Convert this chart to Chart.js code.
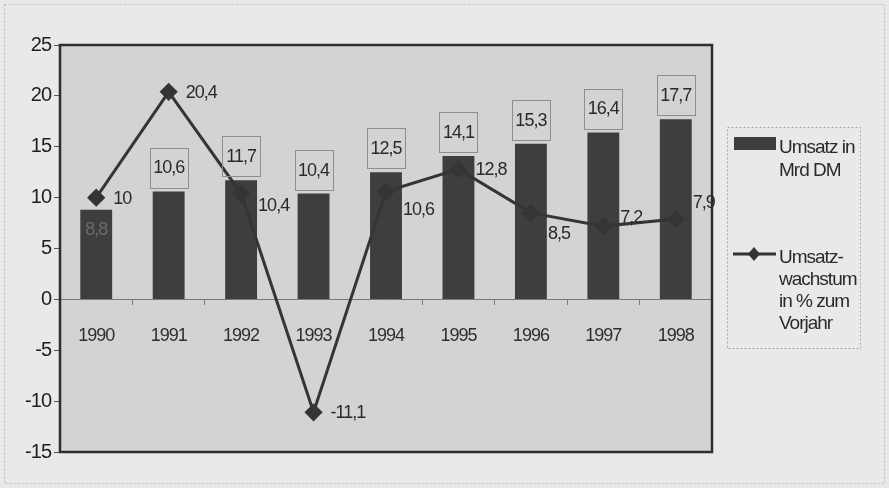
<!DOCTYPE html>
<html>
<head>
<meta charset="utf-8">
<script src="https://cdn.jsdelivr.net/npm/chart.js@4/dist/chart.umd.min.js"></script>
<style>
  html, body { margin: 0; padding: 0; background: #e8e8e6; }
  #wrap { width: 889px; height: 488px; position: relative; }
</style>
</head>
<body>
<div id="wrap"><canvas id="chartUmsatz"></canvas></div>
<script>
// Daten aus der Grafik
const jahre = ["1990", "1991", "1992", "1993", "1994", "1995", "1996", "1997", "1998"];
const umsatz = [8.8, 10.6, 11.7, 10.4, 12.5, 14.1, 15.3, 16.4, 17.7];      // Mrd DM
const wachstum = [10, 20.4, 10.4, -11.1, 10.6, 12.8, 8.5, 7.2, 7.9];      // % zum Vorjahr
const yMin = -15, yMax = 25, yStep = 5;

// Verschiebung der Linien-Beschriftung (px, nach unten)
const labelVersatz = [0, 0, 11, 0, 18, 0, 20, -9, -17];

const dunkel = "#3e3e3e";
const fmt = v => String(v).replace(".", ",");

const hintergrund = {
  id: "hintergrund",
  beforeUpdate(chart) { chart.ctx.letterSpacing = "-1px"; },
  beforeDraw(chart) {
    const { ctx, chartArea: a } = chart;
    ctx.save();
    ctx.fillStyle = "#e9e9e7";
    ctx.fillRect(0, 0, chart.width, chart.height);
    ctx.setLineDash([2, 2]);
    ctx.strokeStyle = "#bdbdbd";
    ctx.lineWidth = 1;
    ctx.strokeRect(4.5, 4.5, chart.width - 9, chart.height - 9);
    ctx.setLineDash([]);
    ctx.fillStyle = "#d3d3d1";
    ctx.fillRect(a.left, a.top, a.right - a.left, a.bottom - a.top);
    ctx.restore();
    ctx.letterSpacing = "-1px";
  },
  afterDraw(chart) {
    const { ctx, chartArea: a } = chart;
    ctx.save();
    ctx.letterSpacing = "-1px";
    // Rahmen der Zeichenfläche
    ctx.strokeStyle = "#2e2e2e";
    ctx.lineWidth = 2.5;
    ctx.strokeRect(a.left, a.top, a.right - a.left, a.bottom - a.top);

    // Säulen-Beschriftung
    ctx.font = "18px 'Liberation Sans', Arial, sans-serif";
    ctx.textAlign = "center";
    ctx.textBaseline = "middle";
    chart.getDatasetMeta(1).data.forEach((bar, i) => {
      if (i === 0) {
        ctx.fillStyle = "#6a6a6a";
        ctx.fillText(fmt(umsatz[i]), bar.x, bar.y + 20);
        return;
      }
      const w = 38, h = 40, bottom = bar.y - 4;
      ctx.strokeStyle = "#8e8e8e";
      ctx.lineWidth = 1;
      ctx.strokeRect(Math.round(bar.x - w / 2) + 0.5, Math.round(bottom - h) + 0.5, w, h);
      ctx.fillStyle = "#2a2a2a";
      ctx.fillText(fmt(umsatz[i]), bar.x, bottom - h / 2 + 1);
    });

    // Linien-Beschriftung
    ctx.textAlign = "left";
    chart.getDatasetMeta(0).data.forEach((pt, i) => {
      ctx.fillStyle = "#2a2a2a";
      ctx.fillText(fmt(wachstum[i]), pt.x + 17, pt.y + labelVersatz[i] + 1);
    });

    // Legende
    const lx = 727, ly = 127;
    ctx.setLineDash([2, 2]);
    ctx.strokeStyle = "#a8a8a8";
    ctx.strokeRect(lx + 0.5, ly + 0.5, 133, 221);
    ctx.setLineDash([]);
    ctx.fillStyle = dunkel;
    ctx.fillRect(lx + 7, ly + 10, 42, 13);
    ctx.font = "19px 'Liberation Sans', Arial, sans-serif";
    ctx.fillStyle = "#2a2a2a";
    ctx.textBaseline = "middle";
    ctx.fillText("Umsatz in", lx + 52, ly + 21);
    ctx.fillText("Mrd DM", lx + 52, ly + 44);
    ctx.strokeStyle = "#333";
    ctx.lineWidth = 3;
    ctx.beginPath();
    ctx.moveTo(lx + 6, ly + 127);
    ctx.lineTo(lx + 49, ly + 127);
    ctx.stroke();
    ctx.beginPath();
    ctx.moveTo(lx + 27, ly + 120);
    ctx.lineTo(lx + 33, ly + 127);
    ctx.lineTo(lx + 27, ly + 134);
    ctx.lineTo(lx + 21, ly + 127);
    ctx.closePath();
    ctx.fillStyle = "#333";
    ctx.fill();
    ctx.fillStyle = "#2a2a2a";
    ["Umsatz-", "wachstum", "in % zum", "Vorjahr"].forEach((t, k) => {
      ctx.fillText(t, lx + 52, ly + 131 + k * 22);
    });
    ctx.restore();
  }
};

document.addEventListener("DOMContentLoaded", function () {
  const ctx = document.getElementById("chartUmsatz");

  new Chart(ctx, {
    type: "bar",
    data: {
      labels: jahre,
      datasets: [
        {
          type: "line",
          label: "Umsatzwachstum in % zum Vorjahr",
          data: wachstum,
          borderColor: "#353535",
          borderWidth: 3,
          pointStyle: "rectRot",
          pointRadius: 7,
          pointBackgroundColor: "#353535",
          pointBorderColor: "#353535",
          tension: 0,
          clip: false
        },
        {
          type: "bar",
          label: "Umsatz in Mrd DM",
          data: umsatz,
          backgroundColor: dunkel,
          barPercentage: 0.44,
          categoryPercentage: 1
        }
      ]
    },
    options: {
      responsive: true,
      maintainAspectRatio: false,
      animation: false,
      layout: { padding: { left: 0, right: 177, top: 45, bottom: 36 } },
      plugins: {
        legend: { display: false },
        tooltip: { enabled: false }
      },
      scales: {
        x: {
          position: { y: 0 },
          offset: true,
          border: { display: true, color: "#7a7a7a", width: 1 },
          grid: { display: true, drawOnChartArea: false, offset: true, tickLength: 5, color: "#7a7a7a" },
          ticks: {
            color: "#2e2e2e",
            padding: 21,
            maxRotation: 0,
            font: { family: "'Liberation Sans', Arial, sans-serif", size: 18 }
          }
        },
        y: {
          min: yMin,
          max: yMax,
          border: { display: false },
          grid: { display: true, drawOnChartArea: false, tickLength: 6, color: "#555" },
          ticks: {
            stepSize: yStep,
            color: "#1e1e1e",
            padding: 3,
            font: { family: "'Liberation Sans', Arial, sans-serif", size: 20 }
          },
          afterFit(scale) { scale.width = 60; }
        }
      }
    },
    plugins: [hintergrund]
  });
});
</script>
</body>
</html>
